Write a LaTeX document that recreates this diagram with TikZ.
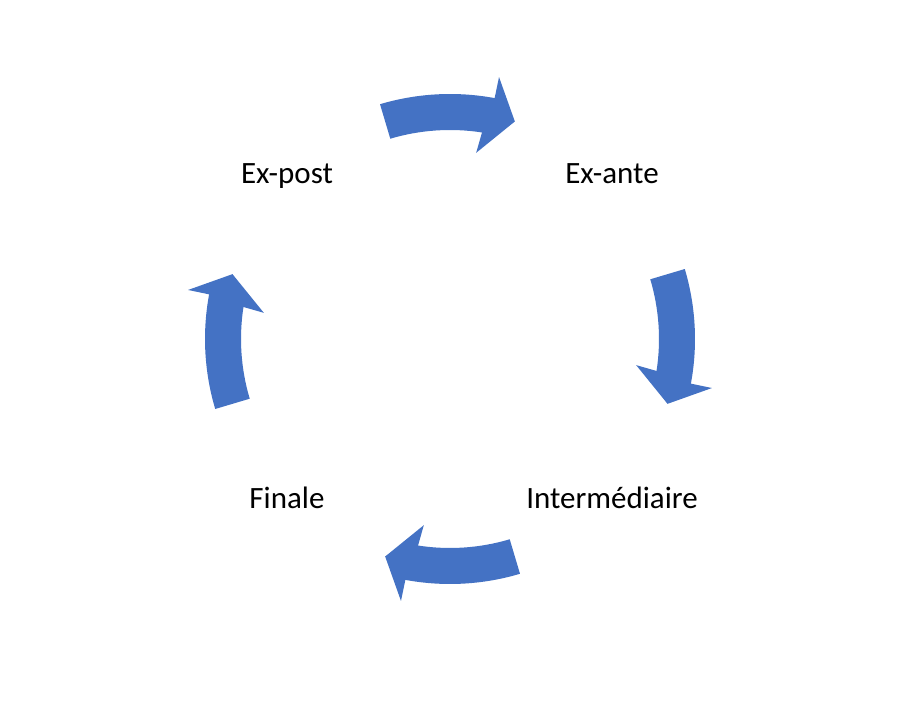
\documentclass[tikz,border=0pt]{standalone}
\usepackage{fontspec}
\setmainfont{Carlito}
\definecolor{arrowblue}{RGB}{68,114,196}
\newcommand{\cyclearrow}[1]{%
  \fill[arrowblue, shift={(ctr)}]
    ({#1+16.6}:245pt) arc[start angle={#1+16.6}, end angle={#1-10.5}, radius=245pt]
    -- ({#1-10.6}:266.5pt) -- ({#1-16.6}:227pt) -- ({#1-8}:188pt) -- ({#1-8.8}:209pt)
    arc[start angle={#1-8.8}, end angle={#1+16.6}, radius=209pt] -- cycle;}
\begin{document}
\begin{tikzpicture}[x=1pt, y=1pt,
  lbl/.style={anchor=base, inner sep=0pt, font=\fontsize{31}{36}\selectfont, text=black}]
\useasboundingbox (0,0) rectangle (902,722);
\fill[white] (0,0) rectangle (902,722);
\coordinate (ctr) at (450,383);
\node[lbl] (expost) at (287,538) {Ex-post};
\node[lbl] (exante) at (612,538) {Ex-ante};
\node[lbl] (inter) at (612,213) {Intermédiaire};
\node[lbl] (finale) at (287,213) {Finale};
\cyclearrow{90}
\cyclearrow{0}
\cyclearrow{-90}
\cyclearrow{180}
\end{tikzpicture}
\end{document}
